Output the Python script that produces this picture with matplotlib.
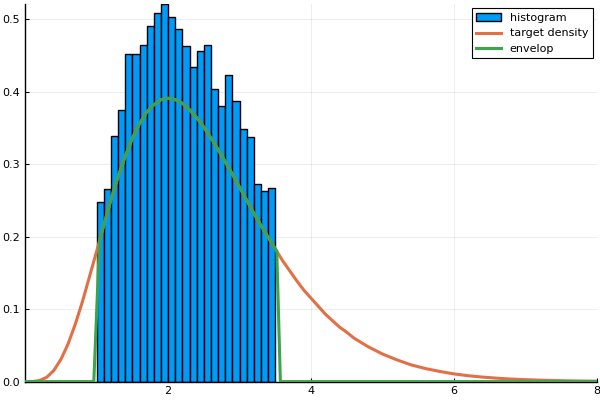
import matplotlib
matplotlib.use("Agg")
import matplotlib.pyplot as plt

# histogram: bin edges and bar heights (normalised counts)
bin_edges = [1.0, 1.1, 1.2, 1.3, 1.4, 1.5, 1.6, 1.7, 1.8, 1.9, 2.0, 2.1, 2.2,
             2.3, 2.4, 2.5, 2.6, 2.7, 2.8, 2.9, 3.0, 3.1, 3.2, 3.3, 3.4, 3.5]
bar_heights = [0.248, 0.266, 0.339, 0.375, 0.452, 0.452, 0.464, 0.490, 0.508,
               0.521, 0.503, 0.486, 0.463, 0.434, 0.456, 0.465, 0.404, 0.380,
               0.423, 0.387, 0.348, 0.337, 0.273, 0.263, 0.267]

# target density
target_x = [0.0, 0.1, 0.2, 0.3, 0.4, 0.5, 0.6, 0.7, 0.8, 0.9, 1.0, 1.1, 1.2,
            1.3, 1.4, 1.5, 1.6, 1.7, 1.8, 1.9, 2.0, 2.1, 2.2, 2.3, 2.4, 2.5,
            2.6, 2.7, 2.8, 2.9, 3.0, 3.1, 3.2, 3.3, 3.4, 3.5, 3.6, 3.7, 3.8,
            3.9, 4.0, 4.1, 4.2, 4.3, 4.4, 4.5, 4.6, 4.8, 5.0, 5.2, 5.4, 5.6,
            5.8, 6.0, 6.2, 6.4, 6.6, 6.8, 7.0, 7.2, 7.4, 7.6, 7.8, 8.0]
target_y = [0.0, 0.0001, 0.0014, 0.0059, 0.0153, 0.0307, 0.052, 0.079, 0.110,
            0.145, 0.180, 0.216, 0.251, 0.283, 0.311, 0.336, 0.356, 0.372,
            0.382, 0.389, 0.391, 0.389, 0.384, 0.375, 0.364, 0.351, 0.336,
            0.320, 0.303, 0.286, 0.268, 0.250, 0.232, 0.215, 0.199, 0.183,
            0.167, 0.153, 0.139, 0.126, 0.115, 0.104, 0.093, 0.084, 0.075,
            0.068, 0.060, 0.048, 0.038, 0.030, 0.023, 0.018, 0.014, 0.0106,
            0.0081, 0.0062, 0.0047, 0.0035, 0.0027, 0.0020, 0.0015, 0.0011,
            0.0008, 0.0006]

# envelop: same curve, only on [1, 3.5]
env_x = [0.0, 0.96, 1.04, 1.1, 1.2, 1.3, 1.4, 1.5, 1.6, 1.7, 1.8, 1.9, 2.0,
         2.1, 2.2, 2.3, 2.4, 2.5, 2.6, 2.7, 2.8, 2.9, 3.0, 3.1, 3.2, 3.3,
         3.4, 3.52, 3.57, 8.0]
env_y = [0.0, 0.0, 0.195, 0.216, 0.251, 0.283, 0.311, 0.336, 0.356, 0.372,
         0.382, 0.389, 0.391, 0.389, 0.384, 0.375, 0.364, 0.351, 0.336,
         0.320, 0.303, 0.286, 0.268, 0.250, 0.232, 0.215, 0.199, 0.180,
         0.0, 0.0]

fig = plt.figure(figsize=(6, 4), dpi=100)
ax = fig.add_axes([0.042, 0.046, 0.953, 0.944])

widths = [b - a for a, b in zip(bin_edges[:-1], bin_edges[1:])]
bars = ax.bar(bin_edges[:-1], bar_heights, width=widths, align="edge",
              color="#009AF9", edgecolor="black", linewidth=1.0,
              label="histogram", zorder=2)
line_t, = ax.plot(target_x, target_y, color="#E26F46", lw=2.2,
                  label="target density", zorder=3)
line_e, = ax.plot(env_x, env_y, color="#3DA44D", lw=2.2, label="envelop",
                  zorder=4)

ax.set_xlim(0, 8)
ax.set_ylim(0, 0.521)
ax.set_xticks([2, 4, 6, 8])
ax.set_yticks([0.0, 0.1, 0.2, 0.3, 0.4, 0.5])
ax.set_yticklabels(["0.0", "0.1", "0.2", "0.3", "0.4", "0.5"])
ax.tick_params(direction="in", length=3, labelsize=8, width=0.8)
ax.grid(True, color="black", alpha=0.1, linewidth=0.5)
ax.set_axisbelow(True)
for side in ["top", "right"]:
    ax.spines[side].set_visible(False)
for side in ["left", "bottom"]:
    ax.spines[side].set_linewidth(1.0)

leg = ax.legend([bars, line_t, line_e], ["histogram", "target density", "envelop"],
                loc="upper right", fontsize=8, fancybox=False,
                edgecolor="black", framealpha=1, handlelength=2.2,
                borderaxespad=0.4)
leg.get_frame().set_linewidth(0.8)

fig.savefig("out.png", dpi=100)
